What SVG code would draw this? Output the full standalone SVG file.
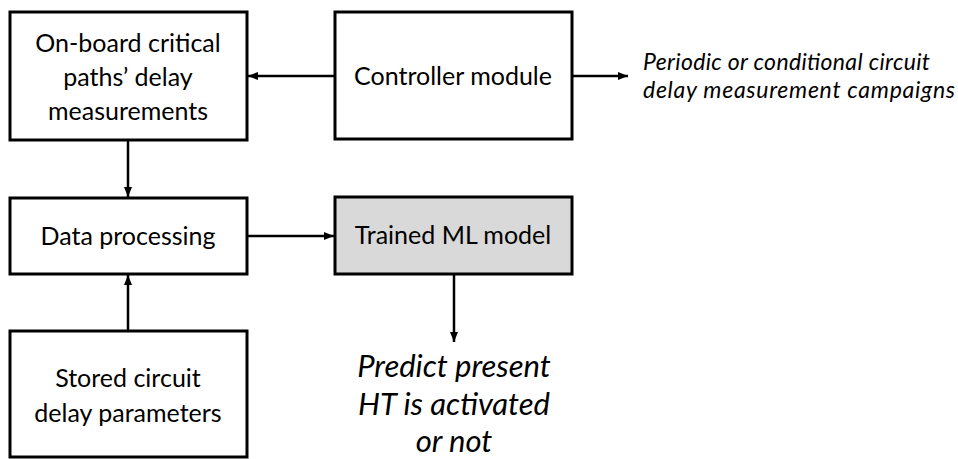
<svg xmlns="http://www.w3.org/2000/svg" width="958" height="459" viewBox="0 0 958 459">
<defs>
<marker id="ah" viewBox="0 0 10 10" refX="10" refY="5" markerWidth="10" markerHeight="10" markerUnits="userSpaceOnUse" orient="auto">
<path d="M0,1 L10,5 L0,9 Z" fill="#000"/>
</marker>
<style>
.box{fill:#fff;stroke:#000;stroke-width:3}
.grey{fill:#d9d9d9}
.t{font-family:Lato,"Liberation Sans",sans-serif;font-size:25px;fill:#000;text-anchor:middle}
.it{font-family:Lato,"Liberation Sans",sans-serif;font-style:italic;fill:#000}
.c{stroke:#000;stroke-width:2.5;fill:none;marker-end:url(#ah)}
</style>
</defs>
<rect width="958" height="459" fill="#fff"/>
<g id="connectors">
<line class="c" x1="335" y1="76" x2="248" y2="76"/>
<line class="c" x1="572" y1="76" x2="628" y2="76"/>
<line class="c" x1="128" y1="140" x2="128" y2="197"/>
<line class="c" x1="247" y1="236" x2="334" y2="236"/>
<line class="c" x1="128" y1="331" x2="128" y2="275"/>
<line class="c" x1="454" y1="274" x2="454" y2="342"/>
</g>
<g id="onboard">
<rect class="box" x="10" y="12" width="237" height="128"/>
<text class="t" x="128" y="52">On-board critical</text>
<text class="t" x="128" y="86">paths’ delay</text>
<text class="t" x="128" y="120">measurements</text>
</g>
<g id="controller">
<rect class="box" x="335" y="12" width="237" height="127"/>
<text class="t" x="453" y="85">Controller module</text>
</g>
<g id="campaigns">
<text class="it" font-size="23" x="643" y="70" textLength="287" lengthAdjust="spacing">Periodic or conditional circuit</text>
<text class="it" font-size="23" x="643" y="98" textLength="312" lengthAdjust="spacing">delay measurement campaigns</text>
</g>
<g id="dataproc">
<rect class="box" x="10" y="198" width="237" height="76"/>
<text class="t" x="128" y="245">Data processing</text>
</g>
<g id="mlmodel">
<rect class="box grey" x="335" y="197" width="237" height="77"/>
<text class="t" x="453" y="244">Trained ML model</text>
</g>
<g id="stored">
<rect class="box" x="10" y="331" width="237" height="126"/>
<text class="t" x="128" y="387">Stored circuit</text>
<text class="t" x="128" y="422">delay parameters</text>
</g>
<g id="predict">
<text class="it" font-size="31" text-anchor="middle" x="454" y="377">Predict present</text>
<text class="it" font-size="31" text-anchor="middle" x="454" y="415">HT is activated</text>
<text class="it" font-size="31" text-anchor="middle" x="454" y="452">or not</text>
</g>
</svg>
